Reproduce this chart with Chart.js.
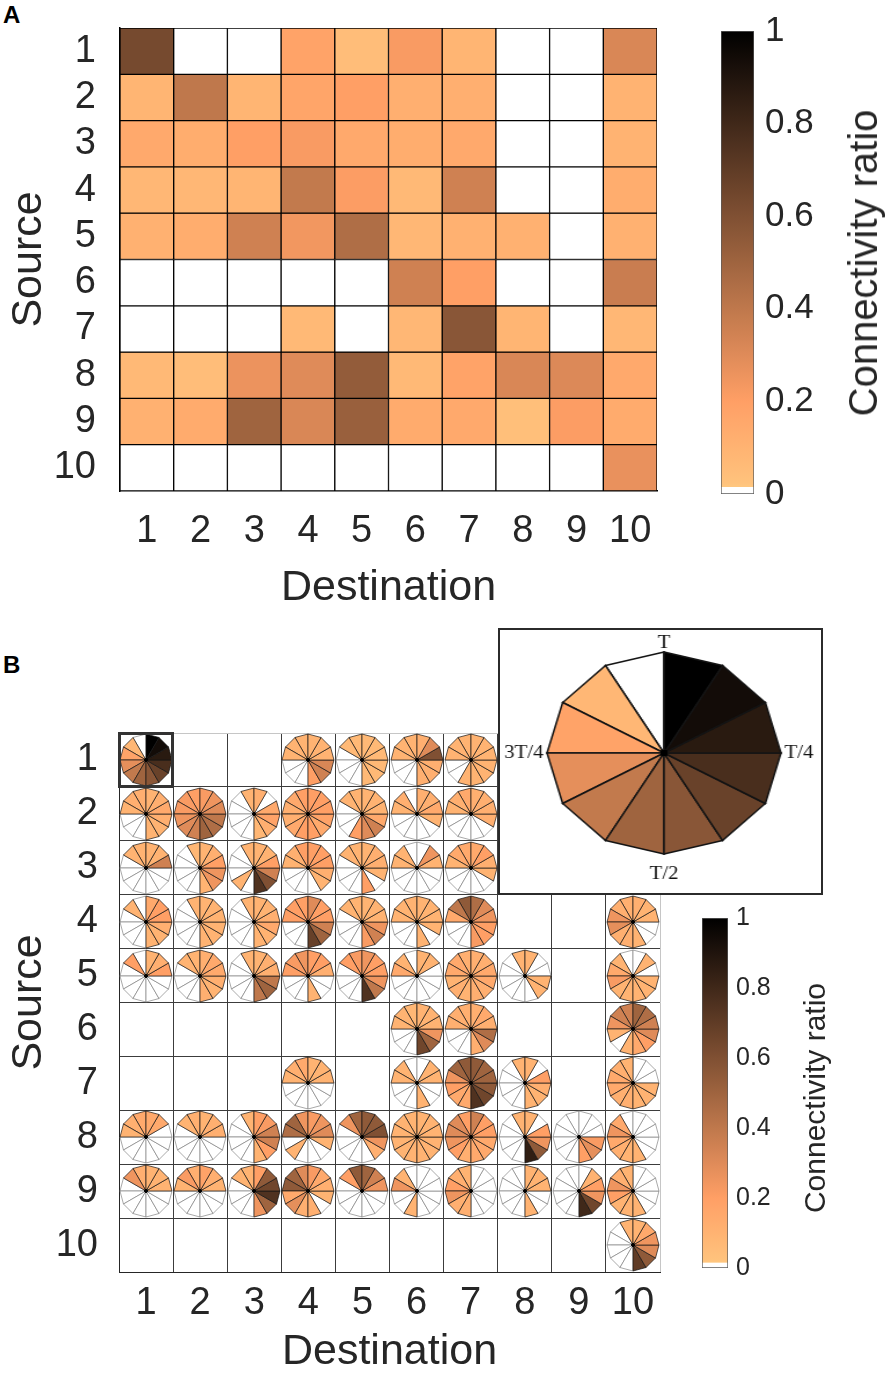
<!DOCTYPE html>
<html>
<head>
<meta charset="utf-8">
<title>Connectivity ratio</title>
<script src="https://cdn.jsdelivr.net/npm/chart.js@4.4.1/dist/chart.umd.min.js"></script>
<style>
  html, body { margin:0; padding:0; background:#fff; }
  body { position:relative; width:890px; height:1374px; overflow:hidden; font-family:'Liberation Sans', Arial, sans-serif; color:#262626; }
  .abs { position:absolute; }
  .panel-label { position:absolute; font-weight:bold; font-size:24px; color:#000; line-height:1; }
  .cb-title { position:absolute; white-space:nowrap; transform:translate(-50%,-50%) rotate(-90deg); color:#262626; line-height:1; }
  #insetBox { position:absolute; box-sizing:border-box; border:2.5px solid #2b2b2b; background:#fff; overflow:hidden; }
  #inset { position:absolute; }
  #focusBox { position:absolute; box-sizing:border-box; border:3px solid #333; }
</style>
</head>
<body>
<div class="panel-label" style="left:3px;top:3px;">A</div>
<div class="panel-label" style="left:3px;top:653px;">B</div>
<canvas id="chartA" class="abs" width="690" height="620" style="left:0;top:0;"></canvas>
<canvas id="cbA" class="abs" width="200" height="530" style="left:690px;top:0;"></canvas>
<div class="cb-title" style="left:863px;top:263px;font-size:40px;">Connectivity ratio</div>
<canvas id="chartB" class="abs" width="700" height="734" style="left:0;top:640px;"></canvas>
<div id="pies"></div>
<div id="focusBox"></div>
<div id="insetBox"><canvas id="inset" width="290" height="260"></canvas></div>
<canvas id="cbB" class="abs" width="110" height="390" style="left:680px;top:900px;"></canvas>
<div class="cb-title" style="left:815px;top:1098px;font-size:30px;">Connectivity ratio</div>
<script>
const FONT = "'Liberation Sans', Arial, sans-serif";
Chart.defaults.font.family = FONT;
Chart.defaults.color = '#262626';

// ---------------- data ----------------
const destinations = ['1','2','3','4','5','6','7','8','9','10'];
const sources = ['1','2','3','4','5','6','7','8','9','10'];
const phaseLabels = ['T','','','T/4','','','T/2','','','3T/4','',''];
const cbTicks = [0, 0.2, 0.4, 0.6, 0.8, 1];

// Panel A: time-averaged connectivity ratio (rows = source, cols = destination)
const heatmapA = [
  [0.63, 0,    0,    0.18, 0.05, 0.22, 0.09, 0,    0,    0.32],
  [0.09, 0.40, 0.09, 0.17, 0.20, 0.12, 0.12, 0,    0,    0.10],
  [0.15, 0.13, 0.20, 0.22, 0.15, 0.13, 0.15, 0,    0,    0.10],
  [0.08, 0.08, 0.09, 0.39, 0.21, 0.07, 0.35, 0,    0,    0.13],
  [0.11, 0.13, 0.35, 0.24, 0.45, 0.08, 0.11, 0.11, 0,    0.11],
  [0,    0,    0,    0,    0,    0.35, 0.20, 0,    0,    0.37],
  [0,    0,    0,    0.07, 0,    0.08, 0.57, 0.09, 0,    0.08],
  [0.07, 0.05, 0.26, 0.30, 0.54, 0.07, 0.18, 0.32, 0.31, 0.15],
  [0.11, 0.14, 0.50, 0.32, 0.52, 0.14, 0.15, 0.04, 0.21, 0.14],
  [0,    0,    0,    0,    0,    0,    0,    0,    0,    0.27]
];

// Panel B: 12 phase values (clockwise from T) per source/destination cell; null = no pie
const pieRow1 = [
  [1.0,0.94,0.87,0.77,0.67,0.57,0.5,0.39,0.28,0.18,0.08,0],
  null, null,
  [0.1,0.1,0.1,0.32,0.35,0.2,0,0,0,0.1,0.1,0.1],
  [0.07,0.07,0.07,0.07,0.07,0.07,0,0,0,0,0.07,0.07],
  [0.12,0.3,0.6,0.12,0.12,0.12,0,0,0,0.1,0.1,0.1],
  [0.1,0.1,0.1,0.1,0.1,0.1,0.1,0,0,0.1,0.1,0.1],
  null, null, null
];
const pieRow2 = [
  [0.1,0.12,0.15,0.12,0.1,0.1,0,0,0,0.1,0.12,0.12],
  [0.22,0.25,0.3,0.4,0.45,0.5,0.35,0.3,0.25,0.22,0.22,0.2],
  [0.12,0,0.15,0.18,0.12,0.08,0,0,0,0,0,0.1],
  [0.2,0.2,0.2,0.18,0.15,0.2,0.2,0.15,0.12,0.12,0.15,0.2],
  [0.1,0.1,0.1,0.15,0.35,0.3,0.2,0,0,0,0.1,0.1],
  [0.12,0.12,0.15,0.1,0,0,0,0,0,0.1,0.12,0],
  [0.12,0.12,0.12,0.12,0,0,0,0,0,0.1,0.12,0.15],
  null, null, null
];
const pieRow3 = [
  [0.1,0.1,0.35,0,0,0,0,0,0,0,0.1,0.1],
  [0.1,0.12,0.2,0.25,0.25,0.1,0,0,0,0,0,0.08],
  [0.1,0.1,0.2,0.35,0.6,0.75,0,0.1,0,0,0,0.1],
  [0.2,0.2,0.2,0.12,0.1,0,0,0,0,0.1,0.12,0.2],
  [0.1,0.12,0.12,0.1,0,0.2,0,0,0,0,0.1,0.1],
  [0,0.25,0.1,0,0,0,0,0,0,0.1,0.1,0],
  [0.15,0.2,0.12,0.1,0,0,0,0,0,0.1,0.15,0.15],
  null, null, null
];
const pieRow4 = [
  [0.15,0.2,0.2,0.12,0.1,0.1,0,0,0,0,0.1,0],
  [0.1,0.1,0.1,0.1,0.1,0.1,0,0,0,0,0,0.1],
  [0.1,0.1,0.12,0.15,0.1,0.1,0,0,0,0,0,0.1],
  [0.3,0.2,0.2,0.35,0.5,0.68,0,0,0,0.2,0.2,0.2],
  [0.1,0.1,0.1,0.25,0.35,0.22,0,0,0,0,0.1,0.1],
  [0.1,0.1,0.1,0.1,0,0.1,0,0,0,0.1,0.1,0.1],
  [0.45,0.3,0.25,0.2,0.2,0.22,0,0,0,0.15,0.4,0.55],
  null, null,
  [0.12,0.1,0.1,0,0,0.1,0.12,0.12,0.28,0.25,0.12,0.12]
];
const pieRow5 = [
  [0.1,0.12,0.2,0,0,0,0,0,0,0,0.2,0],
  [0.12,0.15,0.15,0.12,0.1,0.12,0,0,0,0,0.1,0.1],
  [0.1,0.12,0.12,0.4,0.5,0.4,0,0,0,0,0,0.1],
  [0.2,0.2,0.12,0,0,0.1,0,0,0,0.2,0.22,0.25],
  [0.25,0.2,0.2,0.25,0.4,0.75,0,0,0,0,0.2,0.22],
  [0.1,0.1,0,0,0,0,0,0,0,0.15,0.1,0],
  [0.12,0.12,0.15,0.15,0.12,0.12,0.1,0.12,0.1,0.15,0.15,0.12],
  [0.1,0,0,0.1,0.1,0,0,0,0,0,0,0.1],
  null,
  [0,0.1,0,0.1,0.1,0.1,0.1,0.1,0.22,0.15,0.1,0]
];
const pieRow6 = [
  null, null, null, null, null,
  [0.1,0.1,0.1,0.25,0.5,0.65,0,0,0,0.1,0.1,0.08],
  [0.12,0.15,0.12,0.45,0.3,0.12,0,0,0,0.12,0.12,0.12],
  null, null,
  [0.5,0.45,0.35,0.3,0.2,0.15,0.1,0,0.1,0.25,0.35,0.35]
];
const pieRow7 = [
  null, null, null,
  [0.1,0.1,0.1,0,0,0,0,0,0,0.1,0.12,0.15],
  null,
  [0,0.1,0.1,0,0,0.1,0,0,0,0.1,0.1,0],
  [0.55,0.5,0.5,0.55,0.65,0.75,0.15,0.15,0.2,0.25,0.5,0.55],
  [0.1,0,0.2,0.12,0.1,0.1,0,0,0,0,0,0.1],
  null,
  [0,0,0,0.1,0.1,0.1,0.12,0.12,0.15,0.15,0.12,0.1]
];
const pieRow8 = [
  [0.15,0.15,0,0,0,0,0,0,0,0.1,0.12,0.15],
  [0.1,0.12,0.12,0,0,0,0,0,0,0,0.1,0.12],
  [0.2,0.22,0.35,0.35,0.2,0.1,0,0,0,0,0,0.1],
  [0.22,0.25,0.3,0.1,0,0,0,0.1,0,0.45,0.5,0.25],
  [0.55,0.55,0.6,0.25,0.12,0,0,0,0,0,0.25,0.5],
  [0.1,0.1,0.1,0.1,0.1,0.1,0.1,0.1,0.1,0.1,0.1,0.1],
  [0.35,0.2,0.2,0.15,0.15,0.15,0.12,0.2,0.25,0.3,0.3,0.2],
  [0.1,0,0.2,0.25,0.55,0.85,0,0,0,0,0,0.1],
  [0,0,0,0.22,0.28,0.2,0,0,0,0,0,0],
  [0,0,0,0,0,0.1,0.1,0.12,0.15,0.25,0.15,0]
];
const pieRow9 = [
  [0.1,0.1,0.1,0,0,0,0,0,0,0,0.25,0.12],
  [0.18,0.12,0.1,0,0,0,0,0,0,0.1,0.22,0.12],
  [0.2,0.55,0.65,0.75,0.5,0.25,0,0,0,0,0.1,0.1],
  [0.22,0.15,0.12,0.1,0,0.12,0.12,0.28,0.15,0.55,0.5,0.3],
  [0.5,0.35,0.25,0,0,0,0,0,0,0,0.2,0.55],
  [0,0,0,0,0,0,0.1,0,0,0.25,0.1,0],
  [0,0,0,0,0,0,0.12,0.12,0.25,0.2,0.12,0.1],
  [0.1,0.1,0.1,0,0,0.1,0,0,0,0,0,0],
  [0,0.1,0.2,0.25,0.65,0.8,0,0,0,0,0,0],
  [0,0,0,0,0,0.1,0.1,0.1,0.2,0.25,0.12,0.1]
];
const pieRow10 = [
  null, null, null, null, null, null, null, null, null,
  [0.1,0.15,0.25,0.3,0.55,0.7,0,0,0,0,0,0.1]
];
const pieRows = [pieRow1, pieRow2, pieRow3, pieRow4, pieRow5, pieRow6, pieRow7, pieRow8, pieRow9, pieRow10];

// ---------------- helpers ----------------
// reversed MATLAB "copper": 0 -> white, small -> light orange, 1 -> black
function cmap(v) {
  if (!(v > 0)) return '#ffffff';
  const t = 1 - Math.min(1, v);
  const r = Math.min(1, 1.25 * t), g = 0.7812 * t, b = 0.4975 * t;
  return 'rgb(' + Math.round(r * 255) + ',' + Math.round(g * 255) + ',' + Math.round(b * 255) + ')';
}
const zeroBand = 1 / 65;
function gradientFill(ctx) {
  const chart = ctx.chart;
  const y = chart.scales && chart.scales.y;
  if (!y || !chart.chartArea) return cmap(0.5);
  const y0 = y.getPixelForValue(cbTicks[0]);
  const y1 = y.getPixelForValue(cbTicks[cbTicks.length - 1]);
  const g = chart.ctx.createLinearGradient(0, y0, 0, y1);
  g.addColorStop(0, '#ffffff');
  g.addColorStop(zeroBand, '#ffffff');
  g.addColorStop(zeroBand + 0.0005, cmap(0.0001));
  for (let k = 1; k <= 40; k++) {
    const p = k / 40;
    if (p > zeroBand + 0.0005) g.addColorStop(p, cmap(p));
  }
  return g;
}

function radarConfig(vals, o) {
  const n = phaseLabels.length;
  const order = vals.map((_, i) => i).sort((a, b) => (vals[b] > 0) - (vals[a] > 0));
  return {
    type: 'radar',
    data: {
      labels: phaseLabels,
      datasets: order.map((i, k) => ({
        data: phaseLabels.map((_, j) => (j === i || j === (i + 1) % n) ? 1 : 0),
        backgroundColor: cmap(vals[i]),
        borderColor: vals[i] > 0 ? '#141414' : o.whiteEdge,
        borderWidth: vals[i] > 0 ? o.bw : o.bwWhite,
        fill: 'origin',
        tension: 0,
        pointRadius: k === 0 ? (c => c.raw === 0 ? o.dot : 0) : 0,
        pointHoverRadius: 0,
        pointBackgroundColor: '#000',
        pointBorderWidth: 0
      }))
    },
    options: {
      responsive: false, animation: false, events: [],
      layout: { padding: o.pad },
      plugins: { legend: { display: false }, tooltip: { enabled: false } },
      scales: { r: o.scale }
    }
  };
}

// fixed axis size, without the extra label-overflow padding Chart.js would add
function fixWidth(w) { return s => { s.width = w; s.paddingTop = 0; s.paddingBottom = 0; }; }
function fixHeight(h) { return s => { s.height = h; }; }

const tickFont = { family: FONT, size: 38 };
const titleFont = { family: FONT, size: 43, lineHeight: 1 };

// ---------------- Panel A heatmap ----------------
new Chart(document.getElementById('chartA'), {
  type: 'bar',
  data: {
    labels: destinations,
    datasets: heatmapA.map((row, r) => ({
      label: 'Source ' + sources[r],
      data: row.map(() => [r + 0.5, r + 1.5]),
      backgroundColor: row.map(cmap),
      borderColor: '#000',
      borderWidth: 1,
      borderSkipped: false,
      grouped: false,
      barPercentage: 1,
      categoryPercentage: 1
    }))
  },
  options: {
    responsive: false, animation: false, events: [],
    layout: { padding: { left: 0, top: 28, right: 33, bottom: 0 } },
    plugins: { legend: { display: false }, tooltip: { enabled: false } },
    scales: {
      x: {
        type: 'category', offset: true,
        grid: { display: false, drawTicks: false },
        border: { display: true, color: '#000', width: 1.5 },
        ticks: { font: tickFont, color: '#262626', padding: 18, maxRotation: 0, autoSkip: false },
        title: { display: true, text: 'Destination', font: titleFont, color: '#262626', padding: { top: 0, bottom: 10 } },
        afterFit: fixHeight(129)
      },
      y: {
        type: 'linear', min: 0.5, max: 10.5, reverse: true,
        afterBuildTicks: s => { s.ticks = sources.map((_, i) => ({ value: i + 1 })); },
        grid: { display: false, drawTicks: false },
        border: { display: true, color: '#000', width: 1.5 },
        ticks: { font: tickFont, color: '#262626', padding: 24, autoSkip: false, callback: v => sources[v - 1] },
        title: { display: true, text: 'Source', font: titleFont, color: '#262626', padding: { top: 8, bottom: 0 } },
        afterFit: fixWidth(120)
      }
    }
  }
});

// ---------------- colorbars ----------------
function colorbar(id, o) {
  return new Chart(document.getElementById(id), {
    type: 'bar',
    data: {
      labels: ['Connectivity ratio'],
      datasets: [{
        data: [[cbTicks[0], cbTicks[cbTicks.length - 1]]],
        backgroundColor: gradientFill,
        borderColor: '#5a5a5a', borderWidth: 1, borderSkipped: false,
        barPercentage: 1, categoryPercentage: 1
      }]
    },
    options: {
      responsive: false, animation: false, events: [],
      layout: { padding: o.pad },
      plugins: { legend: { display: false }, tooltip: { enabled: false } },
      scales: {
        x: { display: false },
        y: {
          position: 'right', min: 0, max: 1,
          afterBuildTicks: s => { s.ticks = cbTicks.map(v => ({ value: v })); },
          grid: { display: false, drawTicks: false }, border: { display: false },
          ticks: { font: { family: FONT, size: o.font }, color: '#262626', padding: o.tp, autoSkip: false, callback: v => String(v) },
          afterFit: fixWidth(o.w)
        }
      }
    }
  });
}
colorbar('cbA', { pad: { left: 31, top: 31, bottom: 36, right: 0 }, w: 136, font: 35, tp: 11 });
colorbar('cbB', { pad: { left: 22, top: 18, bottom: 22, right: 0 }, w: 62, font: 25, tp: 8 });

// ---------------- Panel B axes / grid ----------------
const chartB = new Chart(document.getElementById('chartB'), {
  type: 'scatter',
  data: { datasets: [] },
  options: {
    responsive: false, animation: false, events: [],
    layout: { padding: { left: 0, top: 93, right: 40, bottom: 0 } },
    plugins: { legend: { display: false }, tooltip: { enabled: false } },
    scales: {
      x: {
        type: 'category', labels: destinations, offset: true,
        grid: { offset: true, drawTicks: false, lineWidth: 1, color: c => c.type === 'scale' ? '#c6c6c6' : '#3c3c3c' },
        border: { display: true, color: '#262626', width: 1 },
        ticks: { font: tickFont, color: '#262626', padding: 9, maxRotation: 0, autoSkip: false },
        title: { display: true, text: 'Destination', font: titleFont, color: '#262626', padding: { top: 0, bottom: 0 } },
        afterFit: fixHeight(102)
      },
      y: {
        type: 'category', labels: sources, offset: true,
        grid: { offset: true, drawTicks: false, lineWidth: 1, color: c => (c.type === 'tick' && c.index === 0) ? '#c6c6c6' : '#3c3c3c' },
        border: { display: true, color: '#262626', width: 1 },
        ticks: { font: tickFont, color: '#262626', padding: 21, autoSkip: false },
        title: { display: true, text: 'Source', font: titleFont, color: '#262626', padding: { top: 8, bottom: 0 } },
        afterFit: fixWidth(119)
      }
    }
  }
});

const B_TOP = 640;
const xB = chartB.scales.x, yB = chartB.scales.y;
const cw = xB.width / destinations.length, ch = yB.height / sources.length;
const PIE = 54;
const piesDiv = document.getElementById('pies');
pieRows.forEach((row, r) => row.forEach((vals, c) => {
  if (!vals) return;
  const cx = xB.getPixelForValue(c), cy = B_TOP + yB.getPixelForValue(r);
  const cv = document.createElement('canvas');
  cv.width = PIE; cv.height = PIE;
  cv.style.cssText = 'position:absolute;left:' + (cx - PIE / 2) + 'px;top:' + (cy - PIE / 2) + 'px;';
  piesDiv.appendChild(cv);
  new Chart(cv, radarConfig(vals, {
    bw: 0.7, bwWhite: 0.65, whiteEdge: '#7a7a7a', dot: 1.4, pad: 1,
    scale: { display: false, min: 0, max: 1 }
  }));
}));

// highlighted cell (source 1 -> destination 1)
const fb = document.getElementById('focusBox');
fb.style.left = (xB.getPixelForValue(0) - cw / 2 - 1) + 'px';
fb.style.top = (B_TOP + yB.getPixelForValue(0) - ch / 2 - 1) + 'px';
fb.style.width = (cw + 2) + 'px';
fb.style.height = (ch + 2) + 'px';

// inset box covering destinations 8-10 of sources 1-3
const ib = document.getElementById('insetBox');
const ibLeft = xB.getPixelForValue(7) - cw / 2;
const ibBottom = B_TOP + yB.getPixelForValue(2) + ch / 2;
const ibTop = 628, ibRight = 823;
ib.style.left = ibLeft + 'px';
ib.style.top = ibTop + 'px';
ib.style.width = (ibRight - ibLeft) + 'px';
ib.style.height = (ibBottom - ibTop) + 'px';

// label gap per phase label (T sits close to its vertex, T/2 further away)
const labelGap = { 'T': 0, 'T/4': 3, 'T/2': 11, '3T/4': 3 };
const insetCanvas = document.getElementById('inset');
const insetChart = new Chart(insetCanvas, radarConfig(pieRow1[0], {
  bw: 1.5, bwWhite: 1.5, whiteEdge: '#141414', dot: 3, pad: 0,
  scale: {
    display: true, min: 0, max: 1,
    grid: { display: false }, angleLines: { display: false }, ticks: { display: false },
    pointLabels: {
      display: true,
      font: { family: "'Liberation Serif', 'DejaVu Serif', serif", size: 18, lineHeight: 1 },
      color: '#111',
      padding: c => (labelGap[c.label] !== undefined ? labelGap[c.label] : 2)
    }
  }
}));
const rs = insetChart.scales.r;
const R = rs.drawingArea;
const inCx = 665 - ibLeft - 2.5, inCy = 753 - ibTop - 2.5;
insetCanvas.style.left = (inCx - rs.xCenter) + 'px';
insetCanvas.style.top = (inCy - rs.yCenter) + 'px';
insetCanvas.style.transformOrigin = rs.xCenter + 'px ' + rs.yCenter + 'px';
insetCanvas.style.transform = 'scale(' + (117 / R) + ',' + (101 / R) + ')';
</script>
</body>
</html>
